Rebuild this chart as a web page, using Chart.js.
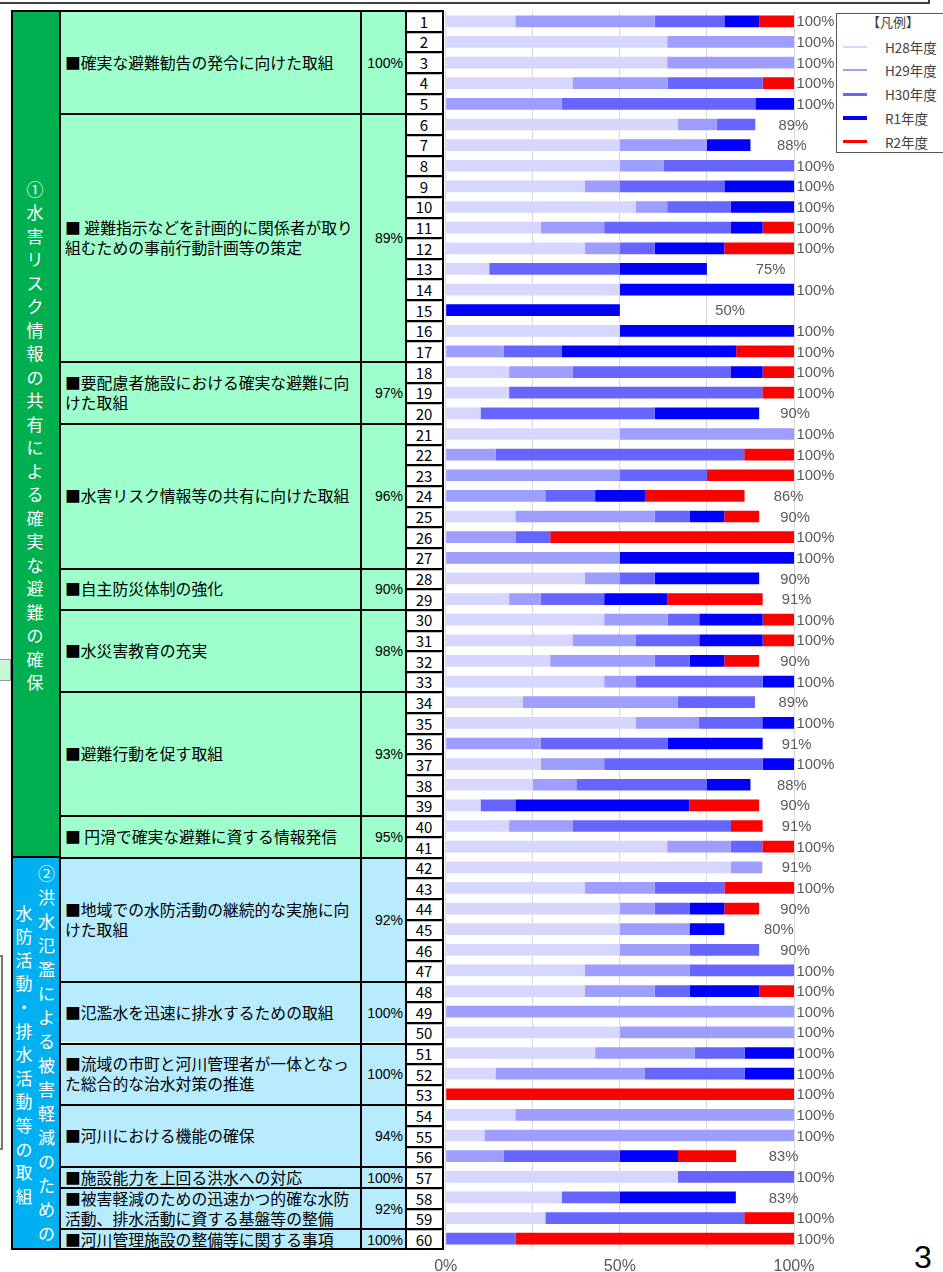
<!DOCTYPE html>
<html><head><meta charset="utf-8">
<script src="https://cdn.jsdelivr.net/npm/chart.js@4.4.1/dist/chart.umd.min.js"></script>
<style>
html,body{margin:0;padding:0;background:#fff;width:943px;height:1272px;overflow:hidden;position:relative;font-family:"Noto Sans CJK JP",sans-serif;}
.a{position:absolute;box-sizing:border-box;}
</style></head><body>
<div id="root"></div>
<canvas id="c" width="513" height="1280" style="position:absolute;left:430px;top:0;width:513px;height:1280px;"></canvas>
<script>
// ---------- DATA ----------
const categories = ['1','2','3','4','5','6','7','8','9','10','11','12','13','14','15','16','17','18','19','20',
'21','22','23','24','25','26','27','28','29','30','31','32','33','34','35','36','37','38','39','40',
'41','42','43','44','45','46','47','48','49','50','51','52','53','54','55','56','57','58','59','60'];
const seriesNames = ['H28年度','H29年度','H30年度','R1年度','R2年度'];
const seriesColors = ['#d6d6ff','#9e9eff','#6666ff','#0000ff','#ff0000'];
const h28 = [20,63.6,63.6,36.4,0,66.7,50,50,40,54.5,27.3,40,12.5,50,0,50,0,18.2,18.2,10,
50,0,0,0,20,0,0,40,18.2,45.5,36.4,30,45.5,22.2,54.5,0,27.3,25,10,18.2,
63.6,81.8,40,50,50,50,40,40,0,50,42.9,14.3,0,20,11.1,0,66.7,33.3,28.6,0];
const h29 = [40,36.4,36.4,27.3,33.3,11.1,25,12.5,10,9.1,18.2,10,0,0,0,0,16.7,18.2,0,0,
50,14.3,50,28.6,40,20,50,10,9.1,18.2,18.2,30,9.1,44.4,18.2,27.3,18.2,12.5,0,18.2,
18.2,9.1,20,10,20,20,30,20,100,50,28.6,42.9,0,80,88.9,16.7,0,0,0,0];
const h30 = [20,0,0,27.3,55.6,11.1,0,37.5,30,18.2,36.4,10,37.5,0,0,0,16.7,45.5,72.7,50,
0,71.4,25,14.3,10,10,0,10,18.2,9.1,18.2,10,36.4,22.2,18.2,36.4,45.5,37.5,10,45.5,
9.1,0,20,10,0,20,30,10,0,0,14.3,28.6,0,0,0,33.3,33.3,16.7,57.1,20];
const r1 = [10,0,0,0,11.1,0,12.5,0,20,18.2,9.1,20,25,50,50,50,50,9.1,0,30,
0,0,0,14.3,10,0,50,30,18.2,18.2,18.2,10,9.1,0,9.1,27.3,9.1,12.5,50,0,
0,0,0,10,10,0,0,20,0,0,14.3,14.3,0,0,0,16.7,0,33.3,0,0];
const r2 = [10,0,0,9.1,0,0,0,0,0,0,9.1,20,0,0,0,0,16.7,9.1,9.1,0,
0,14.3,25,28.6,10,70,0,0,27.3,9.1,9.1,10,0,0,0,0,0,0,20,9.1,
9.1,0,20,10,0,0,0,10,0,0,0,0,100,0,0,16.7,0,0,14.3,80];
const seriesData = [h28,h29,h30,r1,r2];
const xTickLabels = ['0%','','50%','','100%'];

const itemTexts = [
'■確実な避難勧告の発令に向けた取組',
'■ 避難指示などを計画的に関係者が取り\n組むための事前行動計画等の策定',
'■要配慮者施設における確実な避難に向\nけた取組',
'■水害リスク情報等の共有に向けた取組',
'■自主防災体制の強化',
'■水災害教育の充実',
'■避難行動を促す取組',
'■ 円滑で確実な避難に資する情報発信',
'■地域での水防活動の継続的な実施に向\nけた取組',
'■氾濫水を迅速に排水するための取組',
'■流域の市町と河川管理者が一体となっ\nた総合的な治水対策の推進',
'■河川における機能の確保',
'■施設能力を上回る洪水への対応',
'■被害軽減のための迅速かつ的確な水防\n活動、排水活動に資する基盤等の整備',
'■河川管理施設の整備等に関する事項'];
const itemRowCounts = [5,12,3,7,2,4,6,2,6,3,3,3,1,2,1];
const itemRates = ['100%','89%','97%','96%','90%','98%','93%','95%','92%','100%','100%','94%','100%','92%','100%'];
const groupRowCounts = [41,19];
const group1Title = '①水害リスク情報の共有による確実な避難の確保';
const group2TitleRight = '②洪水氾濫による被害軽減のための';
const group2TitleLeft = '水防活動・排水活動等の取組';

// ---------- LAYOUT ----------
const root = document.getElementById('root');
function el(l,t,w,h,css,txt){const d=document.createElement('div');d.className='a';
 d.style.cssText=`left:${l}px;top:${t}px;width:${w}px;height:${h}px;`+(css||'');if(txt!==undefined)d.textContent=txt;root.appendChild(d);return d;}
const TOP=10, RH=20.65;
const rowY = i => TOP + i*RH;
const groupFill=['#00b050','#00b0f0'];
const itemFill=['#9fffcc','#b7ebfe'];

// stray decorations at page edges
el(0,2,930,2,'background:#404040;');
el(928,0,2,4,'background:#404040;');
el(-2,659,13,22,'background:#c6f7d6;border:1px solid #999;');
el(-20,955,23,195,'border:2px solid #777;');

// fills
let r=0;
groupRowCounts.forEach((n,g)=>{el(11,rowY(r),50,n*RH,'background:'+groupFill[g]+';');r+=n;});
r=0;
itemRowCounts.forEach((n,k)=>{const g = r<groupRowCounts[0]?0:1;
 el(60,rowY(r),301,n*RH,'background:'+itemFill[g]+';');
 el(361,rowY(r),45,n*RH,'background:'+itemFill[g]+';');
 const t=el(65,rowY(r),292,n*RH,'display:flex;align-items:center;white-space:pre;font-size:15.8px;line-height:20px;color:#000;');
 const s=document.createElement('span');s.textContent=itemTexts[k];s.style.marginTop='2px';t.appendChild(s);
 el(361,rowY(r)+1,42,n*RH,`display:flex;align-items:center;justify-content:flex-end;font-family:"Liberation Sans";font-size:14px;color:#000;`,itemRates[k]);
 r+=n;});
el(406,TOP,36,60*RH,'background:#fff;');
// number cells
categories.forEach((c,i)=>{
 el(406,rowY(i)+1.5,36,RH,`text-align:center;font-size:15px;line-height:${RH}px;color:#000;`,c);
 el(405,rowY(i),38,2,'background:#000;');
 el(407,rowY(i)+2,34,1,'background:#bbb;');
});
// lines
el(11,TOP,432,2,'background:#000;');
el(11,rowY(60)-1,432,2,'background:#000;');
[[11,2],[59,2],[360,1.5],[405,2],[441.5,2]].forEach(([x,w])=>el(x,TOP,w,60*RH+1,'background:#000;'));
r=0;
itemRowCounts.forEach(n=>{el(59,rowY(r),384,2,'background:#000;');r+=n;});
el(11,rowY(groupRowCounts[0])-1,50,2,'background:#000;');

// vertical group titles
function vtext(str,cx,cy0,step){[...str].forEach((ch,i)=>{el(cx-12,cy0+i*step-12,24,24,'color:#fff;font-size:17px;line-height:24px;text-align:center;',ch);});}
vtext(group1Title,35,188.5,23.5);
vtext(group2TitleRight,46.5,873,24);
vtext(group2TitleLeft,24,912.5,23.6);

// legend (html, from series arrays)
el(836,13,120,140,'background:#fff;border:1px solid #555;');
el(836,13,114,18,'text-align:center;font-size:13px;line-height:18px;color:#404040;','【凡例】');
const lw=[2,2,3,3.5,3.5];
seriesNames.forEach((n,k)=>{const cy=46.5+k*23.8;
 el(843,cy-lw[k]/2,24,lw[k],'background:'+seriesColors[k]+';');
 el(885,cy-9,60,18,'font-size:13.5px;line-height:18px;color:#404040;white-space:nowrap;',n);
});
// page number
el(906,1240,34,34,'font-family:"Liberation Sans";font-size:32px;line-height:34px;color:#000;text-align:center;','3');

// ---------- CHART ----------
const totalLabels={id:'totals',afterDatasetsDraw(chart){
 const ctx=chart.ctx, x=chart.scales.x, meta0=chart.getDatasetMeta(0);
 const px=x.getPixelForValue(1)-x.getPixelForValue(0);
 ctx.save();ctx.font='14.8px "Liberation Sans"';ctx.fillStyle='#595959';ctx.textBaseline='middle';ctx.textAlign='left';
 categories.forEach((c,i)=>{
  const total=Math.round(seriesData.reduce((s,d)=>s+(d[i]||0),0));
  const y=meta0.data[i].y+1;
  const xl=x.getPixelForValue(100)+2.5-(100-total)*px*0.4666;
  ctx.fillText(total+'%',xl,y);
 });
 ctx.restore();}};

new Chart(document.getElementById('c'),{
 type:'bar',
 data:{labels:categories,datasets:seriesNames.map((n,k)=>({label:n,data:seriesData[k],backgroundColor:seriesColors[k],borderWidth:0,barPercentage:0.567,categoryPercentage:1}))},
 options:{indexAxis:'y',responsive:false,animation:false,devicePixelRatio:1,
  layout:{padding:{left:15.7,right:149,top:11,bottom:9}},
  scales:{
   x:{stacked:true,min:0,max:100,grid:{color:'#d9d9d9',drawTicks:false},border:{display:false},
      afterFit:(s)=>{s.paddingLeft=0;s.paddingRight=0;s.height=22;},
      ticks:{stepSize:25,autoSkip:false,maxRotation:0,padding:8,color:'#595959',font:{family:'Liberation Sans',size:16},
      callback:(v,i)=>xTickLabels[i]}},
   y:{stacked:true,display:false}},
  plugins:{legend:{display:false},tooltip:{enabled:false}}},
 plugins:[totalLabels]
});
</script>
</body></html>
